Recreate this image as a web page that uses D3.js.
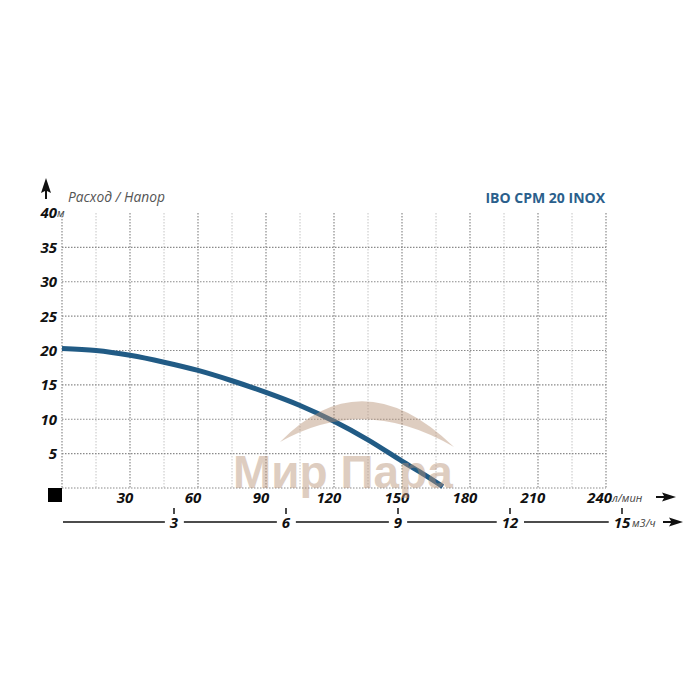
<!DOCTYPE html>
<html><head><meta charset="utf-8">
<script src="https://cdn.jsdelivr.net/npm/d3@7"></script>
<style>body{margin:0;background:#fff}svg{display:block}</style>
</head><body>
<script>
const flow = [0, 15, 30, 45, 60, 75, 90, 105, 120, 135, 150, 160, 168];
const head = [20.3, 20.0, 19.3, 18.3, 17.1, 15.6, 13.9, 12.0, 9.7, 7.0, 3.9, 1.9, 0.2];
const yTicks = [5, 10, 15, 20, 25, 30, 35, 40];
const xTicks = [30, 60, 90, 120, 150, 180, 210, 240];
const xMinor = [15, 45, 75, 105, 135, 165, 195, 225];
const m3Ticks = [3, 6, 9, 12, 15];
const title = "IBO CPM 20 INOX";
const yTitle = "Расход / Напор";

const W = 700, H = 700;
const svg = d3.select("body").append("svg").attr("width", W).attr("height", H);
const x = d3.scaleLinear().domain([0, 240]).range([62, 606]);
const y = d3.scaleLinear().domain([0, 40]).range([488, 213]);
const xm = d3.scaleLinear().domain([0, 15]).range([62, 622]);
const numFont = "'Open Sans', sans-serif";

const grid = svg.append("g");
grid.selectAll(".vmin").data(xMinor).join("line")
  .attr("x1", d => x(d)).attr("x2", d => x(d)).attr("y1", y(40)).attr("y2", y(0))
  .attr("stroke", "#c4c4c4").attr("stroke-width", 1).attr("stroke-dasharray", "1.5,1.5");
grid.selectAll(".vmaj").data([0].concat(xTicks)).join("line")
  .attr("x1", d => x(d)).attr("x2", d => x(d)).attr("y1", y(40)).attr("y2", y(0))
  .attr("stroke", "#8a8a8a").attr("stroke-width", 1.2).attr("stroke-dasharray", "1.5,1.5");
grid.selectAll(".h").data([0].concat(yTicks.filter(d => d < 40))).join("line")
  .attr("x1", x(0)).attr("x2", x(240)).attr("y1", d => y(d)).attr("y2", d => y(d))
  .attr("stroke", "#8a8a8a").attr("stroke-width", 1.2).attr("stroke-dasharray", "1.5,1.5");

svg.selectAll(".yl").data(yTicks).join("text")
  .attr("x", 57).attr("y", d => y(d)).attr("dy", "0.36em")
  .attr("text-anchor", "end").attr("font-family", numFont)
  .attr("font-weight", 700).attr("font-style", "italic").attr("font-size", 15)
  .attr("fill", "#111").text(d => d);
svg.append("text").attr("x", 57).attr("y", y(40)).attr("dy", "0.36em")
  .attr("font-family", numFont).attr("font-style", "italic").attr("font-size", 11)
  .attr("fill", "#444").text("м");

svg.selectAll(".xl").data(xTicks).join("text")
  .attr("x", d => x(d) - 5).attr("y", 503)
  .attr("text-anchor", d => d === 240 ? "end" : "middle")
  .attr("dx", d => d === 240 ? 11 : 0)
  .attr("font-family", numFont).attr("font-weight", 700).attr("font-style", "italic")
  .attr("font-size", 15).attr("fill", "#111").text(d => d);
svg.append("text").attr("x", 612).attr("y", 502)
  .attr("font-family", numFont).attr("font-style", "italic").attr("font-size", 11)
  .attr("fill", "#444").text("л/мин");

function arrowRight(cx, cy) {
  svg.append("path")
    .attr("d", `M${cx},${cy - 1} L${cx + 8},${cy - 1} L${cx + 6},${cy - 4.5} L${cx + 20},${cy} L${cx + 6},${cy + 4.5} L${cx + 8},${cy + 1} L${cx},${cy + 1} Z`)
    .attr("fill", "#111");
}
arrowRight(656, 497);

const lab = svg.append("g");
const m3Labels = lab.selectAll("text").data(m3Ticks).join("text")
  .attr("x", d => xm(d)).attr("y", 528).attr("text-anchor", "middle")
  .attr("font-family", numFont).attr("font-weight", 700).attr("font-style", "italic")
  .attr("font-size", 15).attr("fill", "#111").text(d => d);
svg.selectAll(".mt").data(m3Ticks).join("line")
  .attr("x1", d => xm(d)).attr("x2", d => xm(d)).attr("y1", 508).attr("y2", 514)
  .attr("stroke", "#111").attr("stroke-width", 1.5);
const boxes = [];
m3Labels.each(function () { boxes.push(this.getBBox()); });
let startX = 63;
boxes.forEach(b => {
  svg.append("line").attr("x1", startX).attr("x2", b.x - 5)
    .attr("y1", 522).attr("y2", 522).attr("stroke", "#111").attr("stroke-width", 1.3);
  startX = b.x + b.width + 5;
});
const last = boxes[boxes.length - 1];
svg.append("text").attr("x", last.x + last.width + 1).attr("y", 527)
  .attr("font-family", numFont).attr("font-style", "italic").attr("font-size", 11)
  .attr("fill", "#444").text("м3/ч");
arrowRight(663, 522);

svg.append("rect").attr("x", 48).attr("y", 488).attr("width", 14).attr("height", 14).attr("fill", "#000");

svg.append("path")
  .attr("d", "M46,178 L51,193 L47,191 L47,199 L45,199 L45,191 L41,193 Z")
  .attr("fill", "#111");

svg.append("text").attr("x", 68).attr("y", 202)
  .attr("font-family", numFont).attr("font-style", "italic").attr("font-size", 13.8)
  .attr("fill", "#555").text(yTitle);

svg.append("text").attr("x", 605).attr("y", 203).attr("text-anchor", "end")
  .attr("font-family", numFont).attr("font-weight", 700).attr("font-size", 14)
  .attr("fill", "#2b5f8c").text(title);

const pts = flow.map((f, i) => [f, head[i]]);
svg.append("path").datum(pts)
  .attr("d", d3.line().x(d => x(d[0])).y(d => y(d[1])).curve(d3.curveCatmullRom.alpha(0.5)))
  .attr("fill", "none").attr("stroke", "#215b85").attr("stroke-width", 5)
  .attr("stroke-linecap", "butt");

const wm = svg.append("g").attr("opacity", 0.45);
wm.append("path")
  .attr("d", "M280,442 Q362,358 454,447 Q364,394 280,442 Z")
  .attr("fill", "#b89276");
wm.append("text").attr("x", 233).attr("y", 488)
  .attr("font-family", "'Liberation Sans', Arial, sans-serif").attr("font-weight", 700)
  .attr("font-size", 46).attr("fill", "#b89276").text("Мир Пара");
</script>
</body></html>
